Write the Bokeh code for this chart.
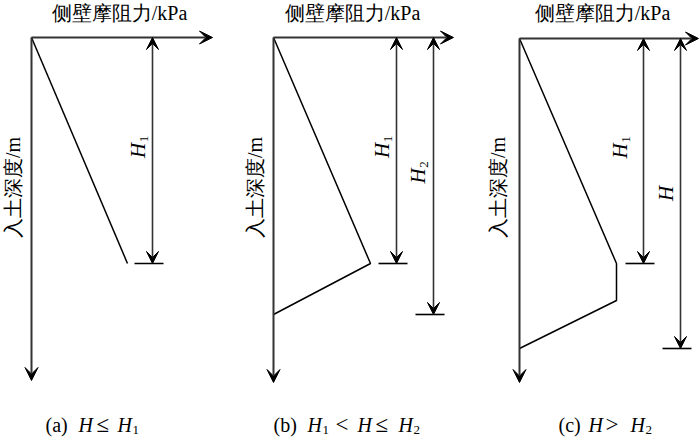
import numpy as np
from bokeh.plotting import figure
from bokeh.models import Range1d, Arrow, VeeHead, ColumnDataSource
from bokeh.core.properties import value
from bokeh.embed import file_html
from bokeh.resources import INLINE

# ---------------- data (schematic units, reference pixel frame) ----------------
panels = ["a", "b", "c"]
panel_x0 = [31, 273, 519]          # origin of each panel (friction = 0)
panel_y0 = [37, 37, 38]            # origin of each panel (depth = 0)
friction_axis_len = [181, 180, 179]
depth_axis_len = [343, 345, 344]

# side friction profile: friction value vs depth
prof_friction = [[0, 96], [0, 97, 0], [0, 97, 97, 0]]
prof_depth = [[0, 226], [0, 226, 277], [0, 225, 262, 310]]

# dimension lines: friction position, depth, subscript label
dim_pos = [[121], [123, 160], [124, 161]]
dim_depth = [[226], [226, 277], [225, 310]]
dim_sub = [["1"], ["1", "2"], ["1", ""]]
dim_label_off = [[-15], [-15, -16], [-24, -15]]

title_text = "侧壁摩阻力/kPa"
ylabel_text = "入土深度/m"
title_x = [119, 352, 602]
ylabel_x = [12, 254, 497]

# captions: pieces (text, style) and x positions
cap_text = [["(a)", "H", "≤", "H", "1"],
            ["(b)", "H", "1", "<", "H", "≤", "H", "2"],
            ["(c)", "H", ">", "H", "2"]]
cap_style = [["n", "i", "r", "i", "s"],
             ["n", "i", "s", "r", "i", "r", "i", "s"],
             ["n", "i", "r", "i", "s"]]
cap_x = [[45, 78, 96, 117, 132],
         [273, 307, 322, 335, 357, 375, 398, 413],
         [558, 588, 605, 630, 645]]

# ---------------- figure ----------------
p = figure(width=700, height=439, x_range=Range1d(0, 700), y_range=Range1d(439, 0),
           output_backend="svg", toolbar_location=None, min_border=0,
           x_axis_location=None, y_axis_location=None)
p.grid.visible = False
p.outline_line_color = None
p.background_fill_color = "white"

SERIF = value("Liberation Serif")
AX = "#333333"

def head(sz=12):
    return VeeHead(size=sz, fill_color="black", line_color="black", line_width=1)

for i in range(3):
    x0, y0 = panel_x0[i], panel_y0[i]
    # axes with arrows
    axsrc = ColumnDataSource(dict(xs=[x0, x0], ys=[y0, y0],
                                  xe=[x0 + friction_axis_len[i], x0],
                                  ye=[y0, y0 + depth_axis_len[i]]))
    p.add_layout(Arrow(end=head(13), x_start="xs", y_start="ys", x_end="xe", y_end="ye",
                       source=axsrc, line_color=AX, line_width=2))
    # profile
    px = [x0 + f for f in prof_friction[i]]
    py = [y0 + d for d in prof_depth[i]]
    p.line(px, py, line_color="black", line_width=1.5)
    # dimension lines
    xs = [x0 + f for f in dim_pos[i]]
    ys_top = [y0] * len(xs)
    ys_bot = [y0 + d for d in dim_depth[i]]
    dsrc = ColumnDataSource(dict(xs=xs, ys=ys_bot, xe=xs, ye=ys_top))
    p.add_layout(Arrow(start=head(12), end=head(12), x_start="xs", y_start="ys",
                       x_end="xe", y_end="ye", source=dsrc,
                       line_color=AX, line_width=1.6))
    # ticks at dimension ends
    p.segment(x0=[x - 18 for x in xs], y0=ys_bot, x1=[x + 11 for x in xs], y1=ys_bot,
              line_color="black", line_width=1.6)
    # labels H / H_sub (rotated)
    for j in range(len(xs)):
        mid = y0 + dim_depth[i][j] / 2.0
        lx = xs[j] + dim_label_off[i][j]
        has_sub = dim_sub[i][j] != ""
        hy = mid
        p.text(x=[lx], y=[hy], text=["H"], angle=np.pi / 2, text_align="center",
               text_baseline="middle", text_font=SERIF, text_font_style="italic",
               text_font_size="21px", text_color="black")
        if has_sub:
            p.text(x=[lx + 6], y=[hy - 11.5], text=[dim_sub[i][j]], angle=np.pi / 2,
                   text_align="center", text_baseline="middle", text_font=SERIF,
                   text_font_size="13px", text_color="black")
    # title and depth label
    p.text(x=[title_x[i]], y=[12], text=[title_text], text_align="center",
           text_baseline="middle", text_font=SERIF, text_font_size="20px",
           text_color="black")
    p.text(x=[ylabel_x[i]], y=[187], text=[ylabel_text], angle=np.pi / 2,
           text_align="center", text_baseline="middle", text_font=SERIF,
           text_font_size="20px", text_color="black")
    # caption
    for t, s, cx in zip(cap_text[i], cap_style[i], cap_x[i]):
        if s == "s":
            p.text(x=[cx], y=[429], text=[t], text_align="left", text_baseline="middle",
                   text_font=SERIF, text_font_size="13px", text_color="black")
        elif s == "r":
            p.text(x=[cx], y=[424], text=[t], text_align="left", text_baseline="middle",
                   text_font=SERIF, text_font_size="23px", text_color="black")
        else:
            p.text(x=[cx], y=[424], text=[t], text_align="left", text_baseline="middle",
                   text_font=SERIF, text_font_size="20px",
                   text_font_style=("italic" if s == "i" else "normal"),
                   text_color="black")

open("out.html", "w").write(file_html(p, INLINE))
